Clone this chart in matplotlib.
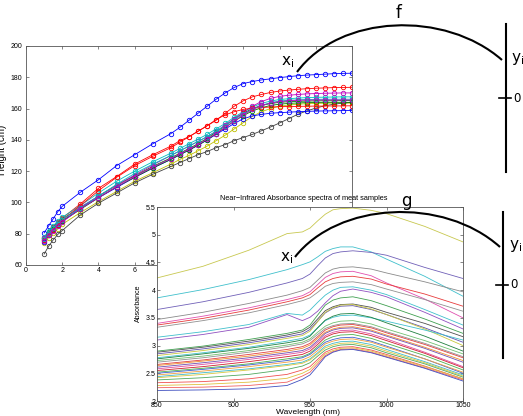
import matplotlib
matplotlib.use('Agg')
import matplotlib.pyplot as plt
from matplotlib.path import Path
from matplotlib.patches import PathPatch

plt.rcParams['font.family'] = ['Liberation Sans', 'DejaVu Sans']

# ---- growth curves (height in cm by age) ----
ages = [1, 1.25, 1.5, 1.75, 2, 3, 4, 5, 6, 7, 8, 8.5, 9, 9.5, 10, 10.5,
        11, 11.5, 12, 12.5, 13, 13.5, 14, 14.5, 15, 15.5, 16, 16.5, 17, 17.5, 18]
h_b1 = [80.5, 85, 89.5, 94, 97.5, 106.5, 114.5, 123.5, 130.5, 137.5, 144, 148, 152.5, 157, 161.5, 166,
        170, 173.5, 176, 177.3, 178.3, 179, 179.8, 180.4, 181, 181.4, 181.7, 182, 182.3, 182.5, 182.6]
h_g1 = [77.5, 81, 84.5, 87, 89.5, 96.5, 104, 111, 117, 123, 128.5, 131.5, 134.5, 137.5, 141, 145,
        149, 153.5, 157, 160, 162, 163.2, 164, 164.4, 164.6, 164.8, 164.9, 165, 165, 165.1, 165.1]
h_r1 = [77, 80.5, 84, 87.5, 90, 99, 109, 116.5, 124.5, 130.5, 136, 139.5, 142, 145.5, 149, 152.5,
        157, 161.5, 165, 167.5, 169, 170.3, 171.2, 171.8, 172.3, 172.7, 173, 173.2, 173.4, 173.5, 173.6]
h_c1 = [78, 81.5, 85, 88, 90.5, 98, 106, 113.5, 120, 126, 131.5, 134.5, 137.5, 140.5, 143.5, 147,
        150.5, 154.5, 158, 161, 163.3, 164.8, 165.8, 166.3, 166.7, 167, 167.2, 167.3, 167.4, 167.5, 167.5]
h_m1 = [77, 80, 83.5, 86.5, 89, 97, 104, 111, 117.5, 124, 130, 133, 136, 139, 142, 145.5,
        149.5, 153.5, 157.5, 161.5, 164.5, 166.5, 167.8, 168.5, 169, 169.4, 169.6, 169.8, 169.9, 170, 170]
h_y1 = [74, 77.5, 80.5, 83, 86, 93.5, 100.5, 107, 113.5, 119, 124.5, 127.5, 130, 133, 136, 139.5,
        143, 147, 151, 155, 158, 160, 161.5, 162.3, 162.8, 163.1, 163.3, 163.4, 163.5, 163.5, 163.5]
h_k1 = [67, 72, 76, 79.5, 82, 92, 99.5, 106, 112.5, 118, 123, 125.5, 128, 130.5, 132.5, 135,
        137, 139.5, 141.5, 143.5, 145.8, 148.2, 150.8, 153.5, 156.3, 158.5, 160.3, 161.8, 162.8, 163.5, 164]
h_b2 = [75, 79, 82.5, 85.5, 88, 96, 103, 109.5, 116, 122, 127.5, 130.5, 133.5, 136.5, 140, 143.5,
        147, 150.5, 153.5, 155.3, 156.3, 157, 157.4, 157.7, 158, 158.2, 158.4, 158.5, 158.6, 158.7, 158.8]
h_g2 = [76, 79.5, 83, 85.5, 88, 95.5, 103, 110, 116, 122, 127.5, 130.5, 133.5, 136.5, 140, 144,
        148, 152, 155.5, 158.5, 160.5, 162, 162.8, 163.3, 163.6, 163.8, 163.9, 164, 164, 164, 164]
h_r2 = [76, 79, 82.5, 85.5, 88.5, 98, 107.5, 116, 123.5, 129.5, 135, 138.5, 142, 145.5, 149, 153,
        156, 158, 159.5, 160.2, 160.7, 161, 161.2, 161.3, 161.4, 161.5, 161.6, 161.6, 161.7, 161.7, 161.8]
h_c2 = [76.5, 80, 83.5, 86.5, 89, 96.5, 104, 111.5, 118.5, 124.5, 130, 133, 136, 139, 142, 145.5,
        149, 153, 156.5, 159.5, 162, 163.8, 164.8, 165.3, 165.6, 165.8, 165.9, 166, 166, 166, 166]
h_m2 = [75.5, 79, 82, 85, 87.5, 96, 103, 110, 116.5, 122.5, 128, 131, 134, 137, 140.5, 144,
        148, 152, 156, 159.5, 162, 163.5, 164.5, 165, 165.3, 165.4, 165.5, 165.5, 165.5, 165.5, 165.5]

growth = [h_b1, h_g1, h_r1, h_c1, h_m1, h_y1, h_k1, h_b2, h_g2, h_r2, h_c2, h_m2]
matlab_cols = [(0, 0, 1), (0, 0.5, 0), (1, 0, 0), (0, 0.75, 0.75),
               (0.75, 0, 0.75), (0.75, 0.75, 0), (0.25, 0.25, 0.25)]

# ---- NIR spectra (absorbance by wavelength) ----
wavelength = [850, 880, 910, 935, 945, 950, 955, 960, 965, 970, 978, 990, 1000, 1025, 1050]
s01 = [4.22, 4.43, 4.72, 5.02, 5.05, 5.12, 5.25, 5.37, 5.45, 5.47, 5.48, 5.44, 5.38, 5.15, 4.87]
s02 = [3.86, 4.01, 4.19, 4.37, 4.46, 4.51, 4.60, 4.70, 4.75, 4.78, 4.78, 4.69, 4.56, 4.25, 3.89]
s03 = [3.65, 3.79, 3.96, 4.13, 4.21, 4.29, 4.44, 4.58, 4.66, 4.69, 4.71, 4.68, 4.63, 4.41, 4.21]
s04 = [3.47, 3.60, 3.76, 3.91, 3.99, 4.05, 4.18, 4.31, 4.38, 4.41, 4.42, 4.38, 4.31, 4.15, 3.97]
s05 = [3.40, 3.53, 3.68, 3.83, 3.90, 3.97, 4.10, 4.23, 4.30, 4.33, 4.34, 4.26, 4.13, 3.84, 3.50]
s06 = [3.37, 3.49, 3.64, 3.79, 3.86, 3.92, 4.04, 4.15, 4.21, 4.24, 4.25, 4.20, 4.11, 3.93, 3.71]
s07 = [3.33, 3.45, 3.59, 3.74, 3.81, 3.86, 3.96, 4.07, 4.12, 4.14, 4.15, 4.10, 4.02, 3.83, 3.62]
s08 = [3.15, 3.25, 3.38, 3.58, 3.55, 3.64, 3.78, 3.91, 4.00, 4.05, 4.06, 4.00, 3.92, 3.65, 3.37]
s09 = [3.10, 3.20, 3.33, 3.56, 3.45, 3.51, 3.62, 3.77, 3.90, 3.98, 4.02, 3.96, 3.88, 3.60, 3.30]
s10 = [2.90, 2.99, 3.11, 3.22, 3.28, 3.37, 3.55, 3.73, 3.82, 3.86, 3.88, 3.81, 3.72, 3.48, 3.22]
s11 = [2.88, 2.97, 3.08, 3.19, 3.25, 3.33, 3.48, 3.63, 3.70, 3.74, 3.75, 3.69, 3.60, 3.40, 3.16]
s12 = [2.85, 2.94, 3.05, 3.16, 3.21, 3.29, 3.44, 3.59, 3.67, 3.71, 3.72, 3.65, 3.56, 3.32, 3.06]
s13 = [2.82, 2.91, 3.02, 3.13, 3.18, 3.26, 3.43, 3.60, 3.68, 3.73, 3.74, 3.66, 3.56, 3.30, 3.00]
s14 = [2.78, 2.87, 2.97, 3.08, 3.13, 3.19, 3.32, 3.45, 3.51, 3.54, 3.55, 3.50, 3.44, 3.28, 3.10]
s15 = [2.76, 2.85, 2.95, 3.05, 3.10, 3.17, 3.32, 3.46, 3.53, 3.57, 3.58, 3.51, 3.41, 3.17, 2.90]
s16 = [2.73, 2.81, 2.91, 3.01, 3.06, 3.12, 3.24, 3.35, 3.41, 3.44, 3.45, 3.39, 3.30, 3.09, 2.85]
s17 = [2.70, 2.78, 2.88, 2.98, 3.03, 3.09, 3.20, 3.31, 3.36, 3.39, 3.40, 3.34, 3.25, 3.04, 2.80]
s18 = [2.66, 2.74, 2.84, 2.93, 2.98, 3.04, 3.16, 3.28, 3.34, 3.37, 3.38, 3.32, 3.23, 3.02, 2.78]
s19 = [2.64, 2.72, 2.81, 2.90, 2.95, 3.01, 3.13, 3.24, 3.30, 3.33, 3.34, 3.28, 3.19, 2.97, 2.73]
s20 = [2.61, 2.69, 2.78, 2.87, 2.91, 2.97, 3.09, 3.22, 3.28, 3.31, 3.32, 3.26, 3.17, 2.95, 2.70]
s21 = [2.58, 2.66, 2.75, 2.84, 2.88, 2.94, 3.06, 3.18, 3.24, 3.27, 3.28, 3.21, 3.12, 2.88, 2.62]
s22 = [2.55, 2.62, 2.71, 2.80, 2.84, 2.90, 3.02, 3.15, 3.21, 3.24, 3.25, 3.18, 3.09, 2.86, 2.60]
s23 = [2.52, 2.59, 2.67, 2.76, 2.80, 2.86, 2.98, 3.10, 3.16, 3.19, 3.20, 3.13, 3.04, 2.82, 2.56]
s24 = [2.50, 2.57, 2.65, 2.73, 2.78, 2.84, 2.95, 3.06, 3.11, 3.14, 3.15, 3.08, 2.99, 2.76, 2.50]
s25 = [2.47, 2.54, 2.62, 2.70, 2.74, 2.80, 2.91, 3.03, 3.08, 3.11, 3.12, 3.06, 2.97, 2.76, 2.52]
s26 = [2.44, 2.51, 2.58, 2.66, 2.70, 2.76, 2.87, 2.99, 3.04, 3.07, 3.08, 3.02, 2.93, 2.71, 2.47]
s27 = [2.42, 2.48, 2.56, 2.64, 2.68, 2.74, 2.85, 2.96, 3.01, 3.04, 3.05, 2.99, 2.90, 2.69, 2.45]
s28 = [2.38, 2.42, 2.48, 2.57, 2.63, 2.69, 2.81, 2.92, 2.98, 3.01, 3.02, 2.96, 2.87, 2.67, 2.43]
s29 = [2.33, 2.35, 2.40, 2.48, 2.56, 2.62, 2.75, 2.88, 2.94, 2.97, 2.98, 2.92, 2.84, 2.63, 2.40]
s30 = [2.28, 2.30, 2.34, 2.41, 2.50, 2.57, 2.71, 2.85, 2.91, 2.95, 2.96, 2.90, 2.82, 2.62, 2.40]
s31 = [2.24, 2.25, 2.28, 2.34, 2.45, 2.52, 2.67, 2.82, 2.89, 2.93, 2.94, 2.88, 2.80, 2.60, 2.38]
s32 = [2.19, 2.20, 2.22, 2.28, 2.39, 2.47, 2.63, 2.80, 2.88, 2.92, 2.93, 2.87, 2.79, 2.59, 2.36]

spectra = [s01, s02, s03, s04, s05, s06, s07, s08, s09, s10, s11, s12, s13, s14, s15, s16,
           s17, s18, s19, s20, s21, s22, s23, s24, s25, s26, s27, s28, s29, s30, s31, s32]
spec_cols = ['#c8c850', '#40c0cc', '#7060b8', '#8a8a8a', '#e050b0', '#e83c3c', '#909090', '#40c0cc',
             '#9050c0', '#40a050', '#505050', '#6050b0', '#c8c840', '#40c0cc', '#208040', '#70c070',
             '#909090', '#e04040', '#f09030', '#7050b0', '#e050a0', '#d02030', '#50b050', '#4060d0',
             '#f0a040', '#40b8c8', '#d8c840', '#50a860', '#f05050', '#e0c040', '#f06060', '#4050c0']

W, H = 523, 416
fig = plt.figure(figsize=(W / 100, H / 100), dpi=100)


def px_box(x0, y0, x1, y1):
    return [x0 / W, 1 - y1 / H, (x1 - x0) / W, (y1 - y0) / H]


def matlab_box(ax, size):
    for sp in ax.spines.values():
        sp.set_color('#555555')
        sp.set_linewidth(0.6)
    ax.tick_params(direction='in', length=2.2, width=0.5, color='#555555',
                   top=True, right=True, labelsize=size, pad=1.5)


# growth chart
ax1 = fig.add_axes(px_box(26, 46, 352, 265))
for i, h in enumerate(growth):
    ax1.plot(ages, h, '-o', color=matlab_cols[i % 7], lw=0.6, ms=3.2, mew=0.6, mfc='none')
ax1.set_xlim(0, 18)
ax1.set_ylim(60, 200)
ax1.set_xticks(range(0, 19, 2))
ax1.set_yticks(range(60, 201, 20))
matlab_box(ax1, 5)
ax1.tick_params(axis='y', pad=2.5)
fig.text(2 / W, 1 - 150 / H, 'Height (cm)', rotation=90, ha='center', va='center', fontsize=7)

# white cover under the spectra figure
cover = fig.add_axes(px_box(135, 193, 523, 416))
cover.set_zorder(1)
cover.set_facecolor('white')
cover.axis('off')
cover.patch.set_visible(True)

# spectra chart
ax2 = fig.add_axes(px_box(157, 207, 463, 401))
ax2.set_zorder(2)
for i, s in enumerate(spectra):
    ax2.plot(wavelength, s, color=spec_cols[i], lw=0.6)
ax2.set_xlim(850, 1050)
ax2.set_ylim(2, 5.5)
ax2.set_xticks([850, 900, 950, 1000, 1050])
ax2.set_yticks([2, 2.5, 3, 3.5, 4, 4.5, 5, 5.5])
ax2.set_yticklabels(['2', '2.5', '3', '3.5', '4', '4.5', '5', '5.5'])
matlab_box(ax2, 5)
ax2.tick_params(pad=1)

# annotations in pixel space
ov = fig.add_axes([0, 0, 1, 1])
ov.set_zorder(3)
ov.set_xlim(0, W)
ov.set_ylim(H, 0)
ov.axis('off')
ov.patch.set_visible(False)

ov.text(304, 198, 'Near\u2212Infrared Absorbance spectra of meat samples', ha='center', va='center',
        fontsize=5.3)
ov.text(138, 303, 'Absorbance', rotation=90, ha='center', va='center', fontsize=5)
ov.text(308, 409, 'Wavelength (nm)', ha='center', va='top', fontsize=6)

codes = [Path.MOVETO, Path.CURVE4, Path.CURVE4, Path.CURVE4]
arc_f = Path([(297, 72), (340, 14), (445, 10), (502, 60)], codes)
arc_g = Path([(295, 257), (338, 202), (443, 196), (500, 247)], codes)
for p in (arc_f, arc_g):
    ov.add_patch(PathPatch(p, fill=False, lw=1.5, color='black', capstyle='butt'))

ov.plot([506, 506], [24, 172], color='black', lw=1.5)
ov.plot([499, 511], [98, 98], color='black', lw=1.2)
ov.plot([503, 503], [212, 358], color='black', lw=1.5)
ov.plot([496, 508], [285, 285], color='black', lw=1.2)

lab = dict(family='DejaVu Sans', color='black', ha='left', va='center')
ov.text(396, 13, 'f', fontsize=12, **lab)
ov.text(401, 201, 'g', fontsize=12, **lab)
ov.text(281, 62, r'$\mathregular{x_i}$', fontsize=11, **lab)
ov.text(280, 258, r'$\mathregular{x_i}$', fontsize=11, **lab)
ov.text(511, 59, r'$\mathregular{y_i}$', fontsize=11, **lab)
ov.text(509, 246, r'$\mathregular{y_i}$', fontsize=11, **lab)
ov.text(513, 98, '0', fontsize=8.5, **lab)
ov.text(510, 285, '0', fontsize=8.5, **lab)

fig.savefig('out.png', dpi=100)
